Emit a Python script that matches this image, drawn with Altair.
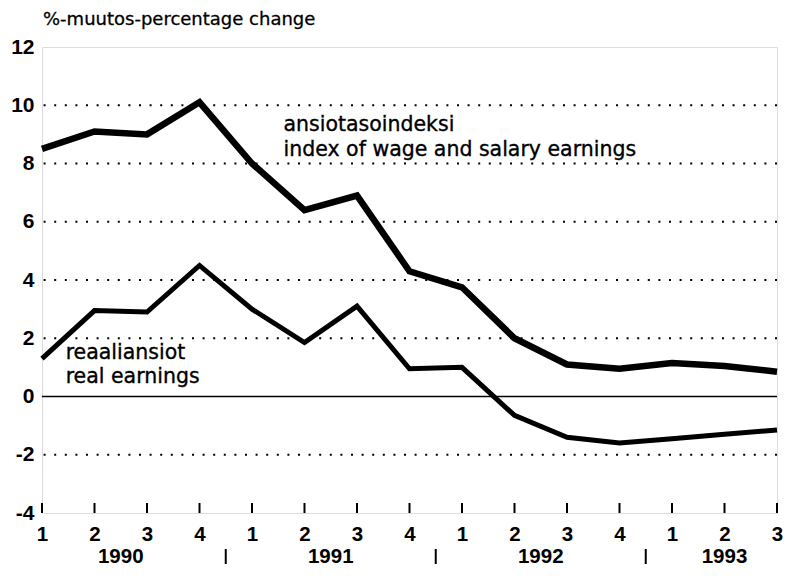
import altair as alt
import pandas as pd

quarter_labels = ["1", "2", "3", "4", "1", "2", "3", "4", "1", "2", "3", "4", "1", "2", "3"]
wage_index = [8.5, 9.1, 9.0, 10.1, 8.0, 6.4, 6.9, 4.3, 3.75, 2.0, 1.1, 0.95, 1.15, 1.05, 0.85]
real_earnings = [1.3, 2.95, 2.9, 4.5, 3.0, 1.85, 3.1, 0.95, 1.0, -0.65, -1.4, -1.6, -1.45, -1.3, -1.15]

year_labels = ["1990", "1991", "1992", "1993"]
year_pos = [1.5, 5.5, 9.5, 13.0]
separator_pos = [3.5, 7.5, 11.5]

y_ticks = [-4, -2, 0, 2, 4, 6, 8, 10, 12]
grid_values = [-2, 2, 4, 6, 8, 10]

title_text = "%-muutos-percentage change"
wage_label = ["ansiotasoindeksi", "index of wage and salary earnings"]
wage_label_pos = (4.6, [9.1, 8.25])
real_label = ["reaaliansiot", "real earnings"]
real_label_pos = (0.45, [1.3, 0.47])

W, H = 735, 466
TFONT = "DejaVu Sans"
NFONT = "Liberation Sans"

idx = list(range(len(quarter_labels)))
df = pd.DataFrame({
    "i": idx + idx,
    "v": wage_index + real_earnings,
    "s": ["wage"] * len(idx) + ["real"] * len(idx),
})

label_expr = "[" + ",".join("'%s'" % q for q in quarter_labels) + "][datum.value]"

xscale = alt.Scale(domain=[0, len(idx) - 1], nice=False, zero=False)
yscale = alt.Scale(domain=[-4, 12], nice=False, zero=False)

x_axis = alt.Axis(values=idx, labelExpr=label_expr, ticks=False, domain=False, grid=False,
                  labelFont=NFONT, labelFontSize=20.5, labelFontWeight="bold", labelColor="black",
                  labelPadding=11, labelFlush=False, title=None)
y_axis = alt.Axis(values=y_ticks, labelExpr="'' + datum.value", ticks=False, domain=False,
                  grid=False, labelFont=NFONT, labelFontSize=21, labelFontWeight="bold",
                  labelColor="black", labelPadding=8, title=None)

grid_df = pd.DataFrame({"g": grid_values})
grid = alt.Chart(grid_df).mark_rule(color="black", strokeWidth=2, strokeDash=[2, 8.6]).encode(
    y=alt.Y("g:Q", scale=yscale, axis=y_axis)
)

zero = alt.Chart(pd.DataFrame({"z": [0]})).mark_rule(color="black", strokeWidth=1.6).encode(
    y=alt.Y("z:Q", scale=yscale)
)

ticks = alt.Chart(pd.DataFrame({"i": idx})).mark_rule(color="black", strokeWidth=2).encode(
    x=alt.X("i:Q", scale=xscale, axis=x_axis),
    y=alt.value(H),
    y2=alt.value(H - 10),
)

wage_line = alt.Chart(df[df.s == "wage"]).mark_line(
    color="black", strokeWidth=6.5, strokeJoin="miter", strokeCap="butt"
).encode(x=alt.X("i:Q", scale=xscale), y=alt.Y("v:Q", scale=yscale))

real_line = alt.Chart(df[df.s == "real"]).mark_line(
    color="black", strokeWidth=5, strokeJoin="miter", strokeCap="butt"
).encode(x=alt.X("i:Q", scale=xscale), y=alt.Y("v:Q", scale=yscale))

ann_df = pd.DataFrame({
    "t": wage_label + real_label,
    "x": [wage_label_pos[0]] * 2 + [real_label_pos[0]] * 2,
    "y": wage_label_pos[1] + real_label_pos[1],
})
ann = alt.Chart(ann_df).mark_text(
    align="left", baseline="alphabetic", font=TFONT, fontSize=20.5, color="black",
    stroke="black", strokeWidth=0.35
).encode(x=alt.X("x:Q", scale=xscale), y=alt.Y("y:Q", scale=yscale), text="t:N")

years_df = pd.DataFrame({"t": year_labels, "x": year_pos})
years = alt.Chart(years_df).mark_text(
    align="center", baseline="alphabetic", font=NFONT, fontSize=20.5, fontWeight="bold",
    color="black"
).encode(x=alt.X("x:Q", scale=xscale), y=alt.value(H + 50), text="t:N")

seps = alt.Chart(pd.DataFrame({"x": separator_pos})).mark_rule(color="black", strokeWidth=2).encode(
    x=alt.X("x:Q", scale=xscale), y=alt.value(H + 36), y2=alt.value(H + 51)
)

title = alt.Chart(pd.DataFrame({"t": [title_text]})).mark_text(
    align="left", baseline="alphabetic", font=TFONT, fontSize=18, color="black",
    stroke="black", strokeWidth=0.3
).encode(x=alt.value(1), y=alt.value(-22), text="t:N")

chart = alt.layer(grid, zero, ticks, wage_line, real_line, ann, years, seps, title).properties(
    width=W, height=H,
    autosize=alt.AutoSizeParams(type="none"),
    padding={"left": 34, "top": 39, "right": 7, "bottom": 55},
).configure_view(stroke="black", strokeWidth=2).configure(background="white")

chart.save("out.html", embed_options={"renderer": "svg", "actions": False})
